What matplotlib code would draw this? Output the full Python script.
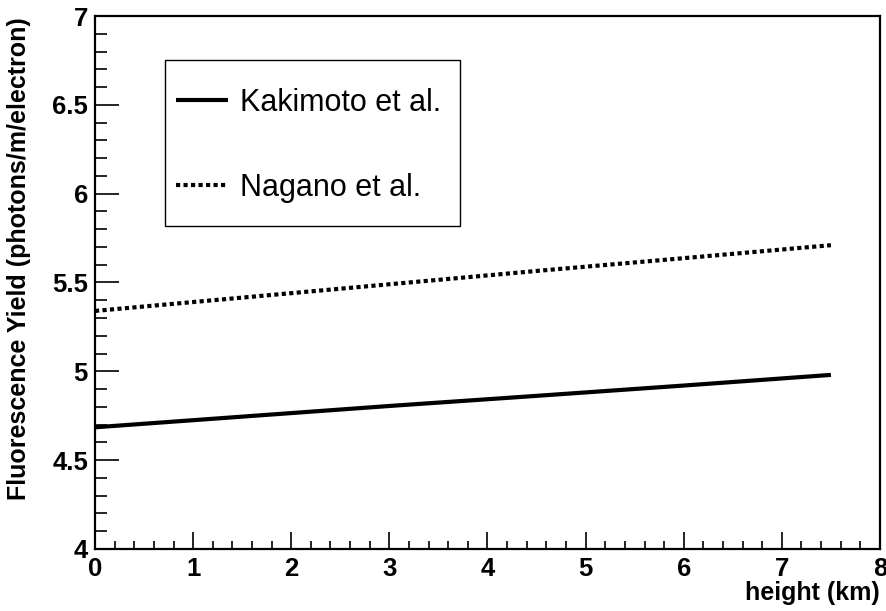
import numpy as np
import matplotlib
matplotlib.use("Agg")
import matplotlib.pyplot as plt
from matplotlib.ticker import MultipleLocator
from matplotlib.patches import Rectangle

# values
height_km = [0.0, 1.5, 3.0, 4.5, 6.0, 7.5]
kakimoto = [4.685, 4.745, 4.805, 4.862, 4.92, 4.98]
nagano = [5.34, 5.415, 5.49, 5.565, 5.637, 5.71]

plt.rcParams['font.family'] = ['Liberation Sans', 'DejaVu Sans']

fig = plt.figure(figsize=(8.87, 6.11), dpi=100)
W, H = 887, 611
ax = fig.add_axes([95 / W, 1 - 549 / H, (880 - 95) / W, (549 - 16) / H])

ax.plot(height_km, kakimoto, color='black', lw=3, solid_capstyle='butt',
        label='Kakimoto et al.')
ax.plot(height_km, nagano, color='black', lw=3, ls=(0, (1, 0.8)),
        dash_capstyle='butt', label='Nagano et al.')

ax.set_xlim(0, 8)
ax.set_ylim(4, 7)
ax.xaxis.set_minor_locator(MultipleLocator(0.2))
ax.yaxis.set_minor_locator(MultipleLocator(0.1))
ax.set_xticks(np.arange(0, 9, 1))
ax.set_xticklabels([str(i) for i in range(9)])
ax.set_yticks(np.arange(4, 7.01, 0.5))
ax.set_yticklabels(['4', '4.5', '5', '5.5', '6', '6.5', '7'])

ax.tick_params(which='both', direction='in', top=False, right=False,
               width=1.2, labelsize=18.5)
ax.tick_params(axis='y', which='major', length=17, pad=5)
ax.tick_params(axis='y', which='minor', length=8.5)
ax.tick_params(axis='x', which='major', length=12, pad=6)
ax.tick_params(axis='x', which='minor', length=6)
for lab in ax.get_xticklabels() + ax.get_yticklabels():
    lab.set_fontweight('bold')
for s in ax.spines.values():
    s.set_linewidth(1.6)

fig.text(880 / W, 1 - 593 / H, 'height (km)', ha='right', va='center',
         fontsize=18, fontweight='bold')
fig.text(19 / W, 1 - 17 / H, 'Fluorescence Yield (photons/m/electron)',
         ha='center', va='top', rotation=90, fontsize=18, fontweight='bold')

# legend box like ROOT TLegend
fig.patches.append(Rectangle((165 / W, 1 - 226 / H), (460 - 165) / W, (226 - 60) / H,
                             transform=fig.transFigure, fill=False,
                             edgecolor='black', lw=1.0))
leg = ax.legend(loc='upper left', bbox_to_anchor=(176 / W, 1 - 88 / H),
                bbox_transform=fig.transFigure,
                fontsize=22, frameon=False, borderpad=0,
                labelspacing=1.8, handlelength=1.7, handletextpad=0.4,
                borderaxespad=0)

fig.savefig('out.png', dpi=100)
